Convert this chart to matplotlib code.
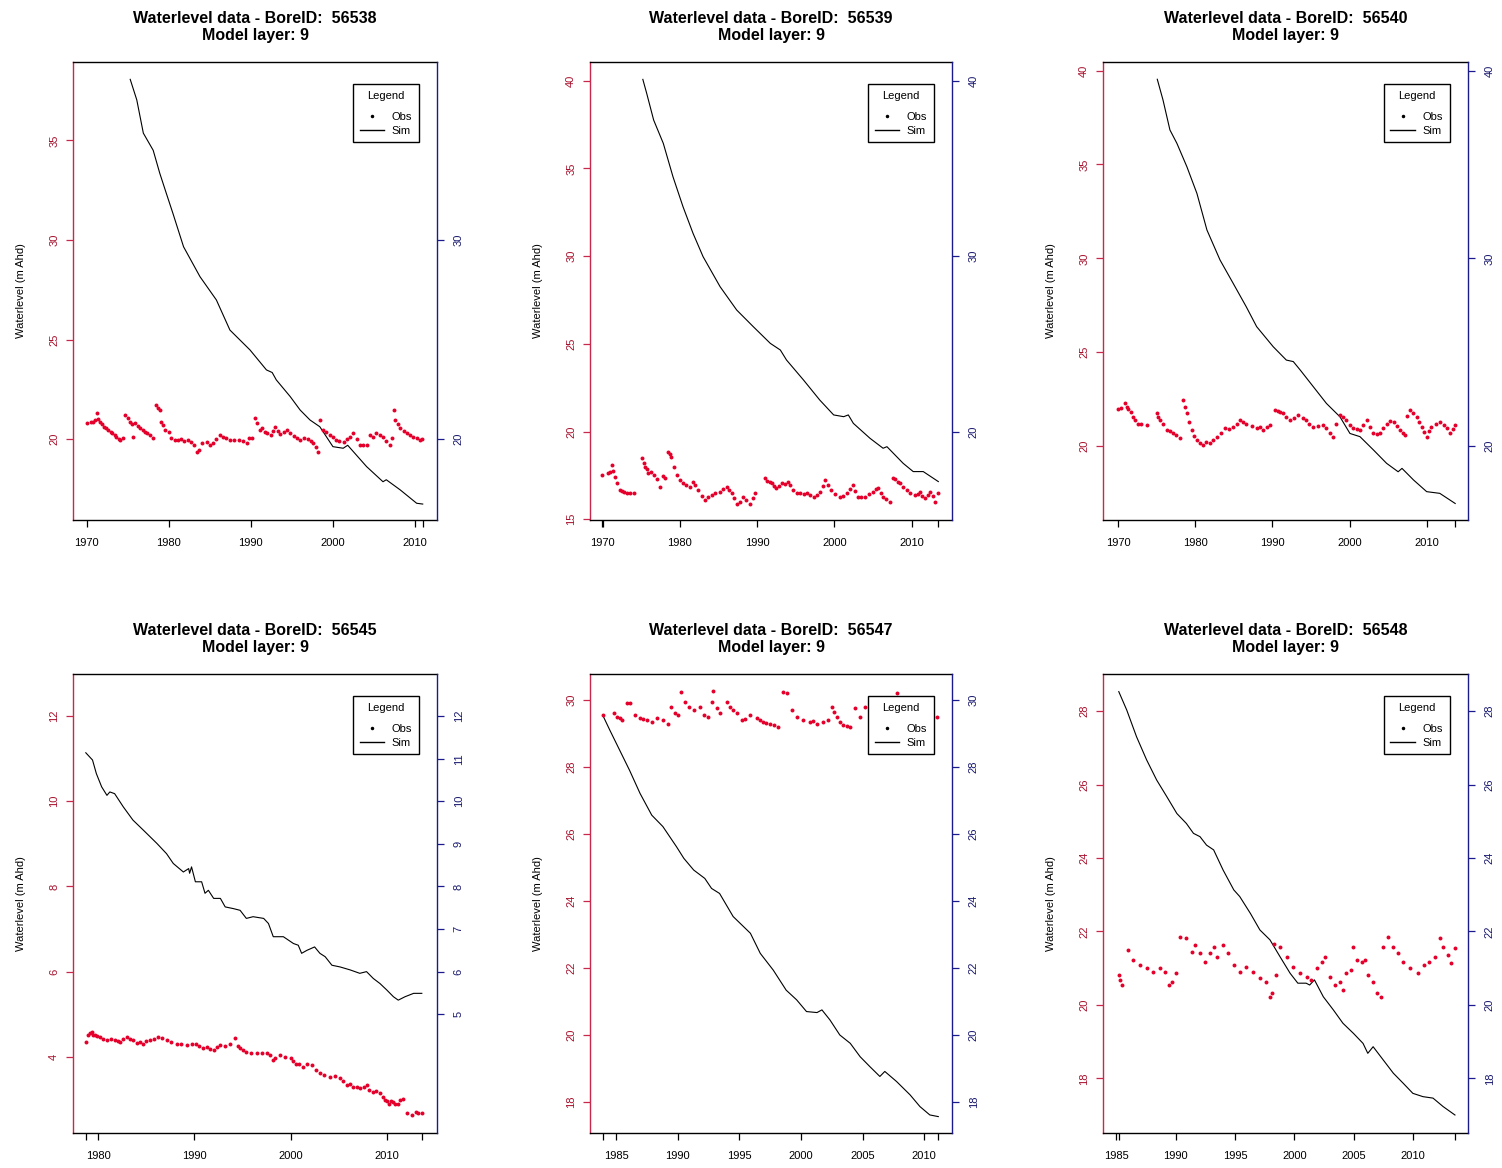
import matplotlib
matplotlib.use('Agg')
import matplotlib.pyplot as plt
from matplotlib.lines import Line2D

plt.rcParams['font.family'] = ['Liberation Sans', 'DejaVu Sans']

# ---------------- data ----------------
bore_ids = ['56538', '56539', '56540', '56545', '56547', '56548']
model_layer = 9
y_label = 'Waterlevel (m Ahd)'

# Panel 1 : 56538
sim1_x = [1975.3, 1976.1, 1976.9, 1978.1, 1978.9, 1979.7, 1980.5, 1981.8, 1983.8, 1985.8,
          1987.45, 1989.9, 1991.9, 1992.6, 1993.1, 1994.8, 1996.0, 1997.2, 1998.4, 2000.0,
          2001.25, 2001.8, 2004.1, 2006.1, 2006.5, 2008.2, 2010.2, 2010.94]
sim1_y = [38.06, 37.03, 35.36, 34.50, 33.35, 32.34, 31.34, 29.66, 28.16, 26.99,
          25.48, 24.48, 23.48, 23.35, 22.98, 22.14, 21.47, 20.97, 20.63, 19.63,
          19.55, 19.70, 18.63, 17.87, 17.97, 17.46, 16.79, 16.75]
obs1_x = [1970.0, 1970.5, 1970.8, 1971.0, 1971.2, 1971.4, 1971.6, 1971.9, 1972.1, 1972.4,
          1972.6, 1972.9, 1973.1, 1973.4, 1973.6, 1973.9, 1974.1, 1974.4, 1974.7, 1975.0,
          1975.3, 1975.5, 1975.7, 1975.9, 1976.2, 1976.5, 1976.8, 1977.1, 1977.4, 1977.7,
          1978.1, 1978.5, 1978.7, 1978.9, 1979.1, 1979.3, 1979.5, 1980.0, 1980.3, 1980.7,
          1981.1, 1981.5, 1981.9, 1982.3, 1982.7, 1983.1, 1983.4, 1983.7, 1984.0, 1984.6,
          1985.0, 1985.4, 1985.8, 1986.2, 1986.6, 1987.0, 1987.5, 1988.0, 1988.5, 1989.0,
          1989.5, 1989.8, 1990.1, 1990.5, 1990.8, 1991.1, 1991.4, 1991.7, 1992.0, 1992.4,
          1992.7, 1993.0, 1993.3, 1993.6, 1994.0, 1994.4, 1994.8, 1995.2, 1995.6, 1996.0,
          1996.5, 1997.0, 1997.3, 1997.6, 1997.9, 1998.2, 1998.4, 1998.8, 1999.2, 1999.6,
          2000.0, 2000.4, 2000.8, 2001.3, 2001.7, 2002.1, 2002.5, 2002.9, 2003.3, 2003.7,
          2004.1, 2004.5, 2004.9, 2005.3, 2005.7, 2006.1, 2006.5, 2006.9, 2007.2, 2007.4,
          2007.6, 2007.9, 2008.2, 2008.6, 2009.0, 2009.4, 2009.8, 2010.2, 2010.6, 2010.9]
obs1_y = [20.80, 20.85, 20.89, 20.95, 21.30, 21.00, 20.89, 20.75, 20.64, 20.55,
          20.47, 20.38, 20.30, 20.20, 20.13, 20.00, 19.97, 20.05, 21.22, 21.05,
          20.89, 20.75, 20.13, 20.80, 20.65, 20.55, 20.45, 20.35, 20.30, 20.20,
          20.05, 21.72, 21.55, 21.47, 20.89, 20.70, 20.47, 20.38, 20.05, 19.97,
          19.95, 20.00, 19.90, 19.95, 19.85, 19.70, 19.38, 19.45, 19.80, 19.88,
          19.72, 19.80, 20.00, 20.22, 20.10, 20.05, 19.97, 19.95, 19.97, 19.90,
          19.80, 20.05, 20.05, 21.05, 20.80, 20.47, 20.55, 20.35, 20.30, 20.22,
          20.40, 20.64, 20.40, 20.25, 20.35, 20.47, 20.30, 20.15, 20.05, 19.97,
          20.05, 20.00, 19.90, 19.80, 19.60, 19.38, 20.97, 20.47, 20.35, 20.22,
          20.10, 19.97, 19.92, 19.88, 20.00, 20.13, 20.30, 20.00, 19.72, 19.72,
          19.72, 20.22, 20.10, 20.30, 20.20, 20.13, 19.90, 19.72, 20.05, 21.47,
          20.97, 20.75, 20.55, 20.42, 20.30, 20.20, 20.13, 20.05, 19.97, 20.00]

# Panel 2 : 56539
sim2_x = [1975.2, 1975.7, 1976.6, 1977.85, 1979.1, 1980.4, 1981.7, 1983.0, 1985.2, 1987.35,
          1989.5, 1991.7, 1993.0, 1993.8, 1996.0, 1998.1, 1999.9, 2001.2, 2001.8, 2002.45,
          2004.6, 2006.3, 2006.8, 2008.9, 2010.2, 2011.5, 2013.45]
sim2_y = [40.08, 39.28, 37.76, 36.43, 34.53, 32.82, 31.30, 29.97, 28.26, 26.93,
          25.98, 25.03, 24.65, 24.08, 22.94, 21.80, 20.95, 20.85, 20.95, 20.47,
          19.62, 19.05, 19.14, 18.19, 17.72, 17.72, 17.15]
obs2_x = [1969.9, 1970.7, 1971.0, 1971.2, 1971.4, 1971.6, 1971.9, 1972.2, 1972.5, 1972.8,
          1973.1, 1973.5, 1974.0, 1975.05, 1975.3, 1975.5, 1975.7, 1975.9, 1976.2, 1976.6,
          1977.0, 1977.4, 1977.8, 1978.1, 1978.5, 1978.7, 1978.9, 1979.2, 1979.6, 1980.0,
          1980.4, 1980.8, 1981.3, 1981.7, 1982.0, 1982.4, 1982.8, 1983.2, 1983.6, 1984.1,
          1984.6, 1985.2, 1985.6, 1986.05, 1986.4, 1986.7, 1987.0, 1987.35, 1987.8, 1988.2,
          1988.6, 1989.1, 1989.4, 1989.7, 1991.0, 1991.3, 1991.6, 1991.9, 1992.2, 1992.5,
          1992.8, 1993.2, 1993.6, 1994.0, 1994.3, 1994.7, 1995.1, 1995.5, 1996.0, 1996.4,
          1996.8, 1997.3, 1997.7, 1998.1, 1998.5, 1998.8, 1999.2, 1999.6, 2000.1, 2000.7,
          2001.1, 2001.6, 2002.0, 2002.4, 2002.7, 2003.1, 2003.5, 2004.0, 2004.5, 2005.0,
          2005.4, 2005.7, 2006.0, 2006.3, 2006.7, 2007.2, 2007.6, 2007.9, 2008.2, 2008.5,
          2008.9, 2009.35, 2009.8, 2010.4, 2010.8, 2011.1, 2011.4, 2011.7, 2012.1, 2012.4,
          2012.7, 2013.0, 2013.45]
obs2_y = [17.53, 17.62, 17.70, 18.10, 17.75, 17.43, 17.05, 16.67, 16.60, 16.55,
          16.48, 16.50, 16.48, 18.48, 18.20, 18.00, 17.85, 17.62, 17.70, 17.53,
          17.30, 16.86, 17.45, 17.34, 18.86, 18.70, 18.57, 18.00, 17.53, 17.25,
          17.05, 16.95, 16.86, 17.15, 16.95, 16.67, 16.35, 16.10, 16.25, 16.39,
          16.50, 16.58, 16.70, 16.86, 16.65, 16.48, 16.20, 15.90, 16.00, 16.29,
          16.10, 15.90, 16.20, 16.48, 17.34, 17.20, 17.10, 17.05, 16.90, 16.76,
          16.90, 17.05, 17.00, 17.15, 16.95, 16.65, 16.48, 16.50, 16.45, 16.48,
          16.40, 16.29, 16.40, 16.58, 16.90, 17.24, 16.95, 16.67, 16.45, 16.29,
          16.35, 16.48, 16.70, 16.96, 16.60, 16.29, 16.25, 16.29, 16.45, 16.58,
          16.70, 16.76, 16.50, 16.29, 16.15, 16.00, 17.34, 17.30, 17.15, 17.05,
          16.85, 16.67, 16.50, 16.39, 16.45, 16.58, 16.35, 16.20, 16.40, 16.58,
          16.30, 16.00, 16.48]

# Panel 3 : 56540
sim3_x = [1975.06, 1975.8, 1976.7, 1977.6, 1978.9, 1980.2, 1981.5, 1983.2, 1984.9, 1986.6,
          1987.95, 1990.1, 1991.8, 1992.7, 1993.6, 1995.3, 1997.0, 1998.75, 2000.05, 2001.35,
          2003.1, 2004.8, 2006.3, 2006.8, 2008.3, 2010.0, 2011.7, 2013.7]
sim3_y = [39.54, 38.44, 36.84, 36.13, 34.88, 33.46, 31.51, 29.91, 28.67, 27.42,
          26.36, 25.29, 24.58, 24.50, 24.05, 23.16, 22.27, 21.56, 20.67, 20.50,
          19.79, 19.08, 18.63, 18.81, 18.19, 17.57, 17.48, 16.94]
obs3_x = [1970.0, 1970.4, 1970.9, 1971.1, 1971.3, 1971.6, 1971.9, 1972.2, 1972.6, 1973.0,
          1973.7, 1975.0, 1975.2, 1975.4, 1975.8, 1976.3, 1976.7, 1977.1, 1977.5, 1978.0,
          1978.4, 1978.6, 1978.9, 1979.2, 1979.5, 1979.8, 1980.2, 1980.6, 1981.0, 1981.4,
          1981.9, 1982.3, 1982.8, 1983.3, 1983.8, 1984.4, 1984.9, 1985.4, 1985.8, 1986.2,
          1986.6, 1987.3, 1987.95, 1988.4, 1988.8, 1989.3, 1989.7, 1990.3, 1990.7, 1991.0,
          1991.4, 1991.8, 1992.3, 1992.8, 1993.35, 1993.9, 1994.4, 1994.8, 1995.3, 1995.9,
          1996.6, 1997.0, 1997.5, 1997.9, 1998.3, 1998.75, 1999.2, 1999.6, 2000.1, 2000.5,
          2000.9, 2001.35, 2001.8, 2002.2, 2002.6, 2003.1, 2003.5, 2003.95, 2004.4, 2004.8,
          2005.2, 2005.7, 2006.1, 2006.5, 2006.9, 2007.2, 2007.5, 2007.8, 2008.2, 2008.7,
          2009.0, 2009.35, 2009.7, 2010.0, 2010.3, 2010.6, 2011.2, 2011.7, 2012.2, 2012.6,
          2013.0, 2013.4, 2013.7]
obs3_y = [22.00, 22.05, 22.27, 22.10, 22.00, 21.80, 21.56, 21.40, 21.20, 21.15,
          21.12, 21.74, 21.55, 21.39, 21.15, 20.85, 20.80, 20.67, 20.60, 20.41,
          22.45, 22.10, 21.74, 21.30, 20.85, 20.55, 20.32, 20.15, 20.05, 20.20,
          20.14, 20.30, 20.50, 20.70, 20.94, 20.90, 21.03, 21.20, 21.39, 21.30,
          21.20, 21.05, 20.94, 21.00, 20.85, 21.00, 21.12, 21.92, 21.85, 21.80,
          21.74, 21.55, 21.39, 21.50, 21.65, 21.50, 21.39, 21.20, 21.03, 21.05,
          21.12, 20.95, 20.70, 20.50, 21.20, 21.65, 21.55, 21.39, 21.10, 20.94,
          20.90, 20.85, 21.10, 21.39, 21.00, 20.67, 20.65, 20.67, 20.95, 21.20,
          21.35, 21.30, 21.05, 20.85, 20.70, 20.59, 21.60, 21.92, 21.75, 21.56,
          21.30, 21.03, 20.75, 20.50, 20.80, 21.03, 21.20, 21.30, 21.10, 20.94,
          20.67, 20.90, 21.12]

# Panel 4 : 56545
sim4_x = [1978.7, 1979.4, 1979.8, 1980.35, 1980.9, 1981.2, 1981.7, 1982.6, 1983.6, 1984.7,
          1986.1, 1987.1, 1987.8, 1988.85, 1989.4, 1989.5, 1989.7, 1990.1, 1990.75, 1991.1,
          1991.45, 1992.0, 1992.7, 1993.2, 1994.05, 1994.75, 1995.4, 1996.1, 1997.2, 1997.7,
          1998.2, 1999.25, 2000.3, 2000.8, 2001.15, 2001.7, 2002.5, 2003.05, 2003.6, 2004.3,
          2005.15, 2006.2, 2007.2, 2007.9, 2008.6, 2009.3, 2010.0, 2010.7, 2011.2, 2011.9,
          2012.8, 2013.65]
sim4_y = [11.14, 10.97, 10.65, 10.34, 10.14, 10.22, 10.18, 9.87, 9.56, 9.32,
          9.01, 8.77, 8.54, 8.34, 8.42, 8.31, 8.46, 8.11, 8.11, 7.84,
          7.91, 7.72, 7.72, 7.52, 7.48, 7.44, 7.25, 7.29, 7.25, 7.13,
          6.82, 6.82, 6.66, 6.62, 6.43, 6.50, 6.58, 6.43, 6.35, 6.15,
          6.11, 6.04, 5.96, 6.00, 5.84, 5.72, 5.57, 5.41, 5.33, 5.41,
          5.49, 5.49]
obs4_x = [1978.7, 1978.9, 1979.1, 1979.3, 1979.5, 1979.65, 1979.9, 1980.2, 1980.5, 1980.9,
          1981.3, 1981.7, 1982.0, 1982.25, 1982.6, 1982.95, 1983.3, 1983.6, 1984.0, 1984.3,
          1984.7, 1985.0, 1985.4, 1985.8, 1986.2, 1986.6, 1987.1, 1987.6, 1988.15, 1988.6,
          1989.2, 1989.7, 1990.2, 1990.5, 1990.9, 1991.3, 1991.6, 1992.0, 1992.3, 1992.7,
          1993.2, 1993.7, 1994.2, 1994.5, 1994.75, 1995.1, 1995.4, 1995.9, 1996.5, 1997.0,
          1997.5, 1997.9, 1998.2, 1998.4, 1998.9, 1999.4, 2000.0, 2000.3, 2000.6, 2000.9,
          2001.3, 2001.7, 2002.2, 2002.6, 2003.05, 2003.5, 2004.1, 2004.6, 2005.15, 2005.5,
          2005.85, 2006.2, 2006.5, 2006.9, 2007.2, 2007.6, 2007.9, 2008.2, 2008.6, 2008.9,
          2009.3, 2009.6, 2009.8, 2010.0, 2010.2, 2010.4, 2010.7, 2010.9, 2011.2, 2011.4,
          2011.7, 2012.1, 2012.6, 2013.0, 2013.3, 2013.65]
obs4_y = [4.35, 4.51, 4.55, 4.59, 4.52, 4.51, 4.48, 4.47, 4.42, 4.39,
          4.42, 4.39, 4.36, 4.35, 4.42, 4.47, 4.42, 4.39, 4.33, 4.35,
          4.31, 4.36, 4.39, 4.42, 4.47, 4.44, 4.39, 4.35, 4.31, 4.30,
          4.27, 4.31, 4.31, 4.25, 4.20, 4.23, 4.18, 4.16, 4.22, 4.27,
          4.25, 4.31, 4.43, 4.25, 4.20, 4.16, 4.12, 4.10, 4.08, 4.09,
          4.08, 4.05, 3.92, 3.98, 4.04, 4.00, 3.96, 3.90, 3.84, 3.82,
          3.77, 3.82, 3.80, 3.70, 3.61, 3.58, 3.53, 3.55, 3.49, 3.42,
          3.33, 3.35, 3.30, 3.30, 3.26, 3.30, 3.33, 3.22, 3.18, 3.20,
          3.14, 3.05, 2.98, 2.95, 2.90, 2.97, 2.94, 2.88, 2.90, 2.98,
          3.02, 2.67, 2.63, 2.70, 2.67, 2.68]

# Panel 5 : 56547
sim5_x = [1983.92, 1984.5, 1985.3, 1986.1, 1986.95, 1987.9, 1988.8, 1989.9, 1990.5, 1991.3,
          1992.2, 1992.75, 1993.4, 1994.5, 1995.9, 1996.7, 1997.75, 1998.8, 1999.65, 2000.45,
          2001.3, 2001.7, 2002.35, 2003.15, 2004.0, 2004.8, 2005.6, 2006.4, 2006.8, 2007.75,
          2008.85, 2009.65, 2010.45, 2011.14]
sim5_y = [29.55, 29.10, 28.50, 27.90, 27.21, 26.56, 26.22, 25.62, 25.27, 24.92,
          24.67, 24.37, 24.22, 23.53, 23.03, 22.43, 21.93, 21.33, 21.04, 20.69,
          20.66, 20.74, 20.44, 19.99, 19.74, 19.34, 19.04, 18.75, 18.90, 18.60,
          18.20, 17.85, 17.60, 17.55]
obs5_x = [1983.92, 1984.8, 1985.05, 1985.3, 1985.5, 1985.9, 1986.1, 1986.5, 1986.95, 1987.2,
          1987.5, 1987.9, 1988.3, 1988.8, 1989.25, 1989.5, 1989.8, 1990.05, 1990.3, 1990.6,
          1990.9, 1991.3, 1991.8, 1992.1, 1992.5, 1992.75, 1992.9, 1993.15, 1993.4, 1994.0,
          1994.25, 1994.5, 1994.8, 1995.2, 1995.5, 1995.9, 1996.4, 1996.7, 1996.95, 1997.2,
          1997.5, 1997.8, 1998.15, 1998.55, 1998.85, 1999.25, 1999.65, 2000.2, 2000.7, 2001.0,
          2001.3, 2001.8, 2002.2, 2002.5, 2002.7, 2002.9, 2003.2, 2003.4, 2003.7, 2004.0,
          2004.4, 2004.8, 2005.2, 2005.6, 2006.0, 2006.5, 2007.0, 2007.5, 2007.75, 2008.3,
          2009.0, 2009.7, 2010.3, 2011.0]
obs5_y = [29.55, 29.60, 29.50, 29.45, 29.40, 29.90, 29.90, 29.55, 29.45, 29.42,
          29.40, 29.35, 29.45, 29.40, 29.30, 29.80, 29.60, 29.55, 30.25, 29.95,
          29.80, 29.70, 29.80, 29.55, 29.50, 29.95, 30.28, 29.75, 29.60, 29.95,
          29.80, 29.70, 29.60, 29.40, 29.42, 29.55, 29.45, 29.40, 29.35, 29.33,
          29.30, 29.25, 29.20, 30.25, 30.20, 29.70, 29.50, 29.40, 29.35, 29.38,
          29.30, 29.35, 29.40, 29.80, 29.65, 29.50, 29.35, 29.25, 29.22, 29.20,
          29.75, 29.50, 29.80, 29.70, 29.60, 29.55, 29.50, 29.95, 30.20, 29.90,
          29.70, 29.60, 29.55, 29.50]

# Panel 6 : 56548
sim6_x = [1985.2, 1985.87, 1986.7, 1987.55, 1988.4, 1989.25, 1990.1, 1990.9, 1991.5, 1992.05,
          1992.6, 1993.2, 1994.0, 1994.9, 1995.4, 1996.3, 1997.1, 1997.95, 1998.8, 1999.65,
          2000.3, 2001.0, 2001.3, 2001.7, 2002.45, 2003.3, 2004.1, 2005.0, 2005.8, 2006.2,
          2006.65, 2007.5, 2008.35, 2009.2, 2010.0, 2010.85, 2011.7, 2012.55, 2013.55]
sim6_y = [28.53, 28.03, 27.30, 26.67, 26.12, 25.67, 25.21, 24.94, 24.67, 24.58,
          24.35, 24.22, 23.67, 23.13, 22.95, 22.49, 22.04, 21.77, 21.31, 20.86,
          20.59, 20.59, 20.54, 20.68, 20.22, 19.86, 19.50, 19.22, 18.95, 18.68,
          18.86, 18.50, 18.14, 17.86, 17.59, 17.50, 17.46, 17.23, 17.00]
obs6_x = [1985.2, 1985.3, 1985.5, 1986.0, 1986.4, 1987.0, 1987.55, 1988.1, 1988.7, 1989.1,
          1989.4, 1989.65, 1990.0, 1990.4, 1990.9, 1991.35, 1991.6, 1992.05, 1992.5, 1992.9,
          1993.2, 1993.5, 1994.0, 1994.45, 1994.9, 1995.4, 1995.95, 1996.5, 1997.1, 1997.65,
          1997.95, 1998.1, 1998.3, 1998.5, 1998.8, 1999.35, 1999.9, 2000.5, 2001.05, 2001.45,
          2001.9, 2002.3, 2002.6, 2003.0, 2003.4, 2003.85, 2004.1, 2004.4, 2004.8, 2004.97,
          2005.25, 2005.7, 2006.0, 2006.25, 2006.65, 2006.95, 2007.35, 2007.5, 2007.9, 2008.35,
          2008.75, 2009.2, 2009.75, 2010.45, 2010.9, 2011.4, 2011.85, 2012.3, 2012.55, 2012.95,
          2013.25, 2013.55]
obs6_y = [20.81, 20.68, 20.54, 21.49, 21.22, 21.09, 21.00, 20.90, 21.00, 20.90,
          20.54, 20.63, 20.86, 21.86, 21.81, 21.45, 21.63, 21.40, 21.18, 21.40,
          21.58, 21.31, 21.63, 21.40, 21.09, 20.90, 21.04, 20.90, 20.72, 20.63,
          20.22, 20.31, 21.67, 20.81, 21.58, 21.31, 21.04, 20.86, 20.77, 20.68,
          21.00, 21.18, 21.31, 20.77, 20.54, 20.63, 20.40, 20.86, 20.95, 21.58,
          21.22, 21.18, 21.22, 20.81, 20.63, 20.31, 20.22, 21.58, 21.86, 21.58,
          21.40, 21.18, 21.00, 20.86, 21.09, 21.18, 21.31, 21.81, 21.58, 21.36,
          21.13, 21.54]

sim_x = [sim1_x, sim2_x, sim3_x, sim4_x, sim5_x, sim6_x]
sim_y = [sim1_y, sim2_y, sim3_y, sim4_y, sim5_y, sim6_y]
obs_x = [obs1_x, obs2_x, obs3_x, obs4_x, obs5_x, obs6_x]
obs_y = [obs1_y, obs2_y, obs3_y, obs4_y, obs5_y, obs6_y]

# axis scales / ticks
x_limits = [(1968.33, 2012.68), (1968.36, 2015.22), (1968.02, 2015.36),
            (1977.37, 2015.23), (1982.89, 2012.25), (1983.87, 2014.65)]
y_limits = [(15.95, 38.93), (14.96, 41.07), (16.06, 40.46),
            (2.21, 12.99), (17.06, 30.78), (16.51, 29.01)]
x_ticks = [[1970, 1980, 1990, 2000, 2010], [1970, 1980, 1990, 2000, 2010],
           [1970, 1980, 1990, 2000, 2010], [1980, 1990, 2000, 2010],
           [1985, 1990, 1995, 2000, 2005, 2010], [1985, 1990, 1995, 2000, 2005, 2010]]
left_ticks = [[20, 25, 30, 35], [15, 20, 25, 30, 35, 40], [20, 25, 30, 35, 40],
              [4, 6, 8, 10, 12], [18, 20, 22, 24, 26, 28, 30], [18, 20, 22, 24, 26, 28]]
right_ticks = [[20, 30], [20, 30, 40], [20, 30, 40],
               [5, 6, 7, 8, 9, 10, 11, 12], [18, 20, 22, 24, 26, 28, 30], [18, 20, 22, 24, 26, 28]]

# ---------------- layout ----------------
W, H = 1502, 1168
fig = plt.figure(figsize=(W / 100, H / 100), dpi=100)
col_px = [(73, 364), (590, 362), (1103, 365)]
row_px = [(62, 458), (674, 459)]

RED_SPINE = '#c8284c'
RED_TXT = '#a8102c'
BLUE_SPINE = '#1a1a8c'
BLUE_TXT = '#18186e'
OBS_COL = '#e4002b'

for i in range(6):
    r, c = divmod(i, 3)
    lpx, wpx = col_px[c]
    tpx, hpx = row_px[r]
    ax = fig.add_axes([lpx / W, 1 - (tpx + hpx) / H, wpx / W, hpx / H])
    ax.set_xlim(*x_limits[i])
    ax.set_ylim(*y_limits[i])

    ax.scatter(obs_x[i], obs_y[i], s=8, color=OBS_COL, linewidths=0, zorder=3)
    ax.plot(sim_x[i], sim_y[i], color='black', lw=0.8, zorder=2)

    # x axis: labelled ticks plus ticks at data start / end
    xs_all = list(sim_x[i]) + list(obs_x[i])
    ax.set_xticks(x_ticks[i])
    ax.set_xticklabels([str(t) for t in x_ticks[i]])
    ax.set_xticks([min(xs_all), max(xs_all)], minor=True)
    ax.tick_params(axis='x', which='both', length=5, width=0.9, color='black',
                   labelsize=8, pad=8, direction='out')

    # left axis
    ax.set_yticks(left_ticks[i])
    ax.set_yticklabels([str(t) for t in left_ticks[i]], rotation=90, va='center')
    ax.tick_params(axis='y', length=5, width=0.9, color=RED_SPINE, labelcolor=RED_TXT,
                   labelsize=8, pad=5, direction='out')
    ax.spines['left'].set_color(RED_SPINE)
    ax.spines['right'].set_visible(False)
    for s in ('top', 'bottom', 'left'):
        ax.spines[s].set_linewidth(1.0)
    ax.set_ylabel(y_label, fontsize=8)
    ax.yaxis.set_label_coords(-47 / wpx, 0.5)

    # right axis
    ax2 = ax.twinx()
    ax2.set_ylim(*y_limits[i])
    ax2.set_yticks(right_ticks[i])
    ax2.set_yticklabels([str(t) for t in right_ticks[i]], rotation=90, va='center')
    ax2.tick_params(axis='y', length=5, width=0.9, color=BLUE_SPINE, labelcolor=BLUE_TXT,
                    labelsize=8, pad=7, direction='out')
    for s in ('top', 'bottom', 'left'):
        ax2.spines[s].set_visible(False)
    ax2.spines['right'].set_color(BLUE_SPINE)
    ax2.spines['right'].set_linewidth(1.0)

    ax.set_title('Waterlevel data - BoreID:  %s\nModel layer: %d' % (bore_ids[i], model_layer),
                 fontsize=11.5, fontweight='bold', pad=16, linespacing=1.15)

    handles = [Line2D([], [], ls='none', marker='.', ms=3, color='black'),
               Line2D([], [], color='black', lw=1.0)]
    leg = ax2.legend(handles, ['Obs', 'Sim'], title='Legend', loc='upper right',
                     bbox_to_anchor=(0.95, 0.952), borderaxespad=0, fontsize=8,
                     title_fontsize=8, fancybox=False, framealpha=1, edgecolor='black',
                     handlelength=2.2, handletextpad=0.7, borderpad=0.6, labelspacing=0.35)
    leg._legend_box.sep = 8
    leg.get_frame().set_linewidth(1.0)
    leg.set_zorder(10)

fig.savefig('out.png', dpi=100)
